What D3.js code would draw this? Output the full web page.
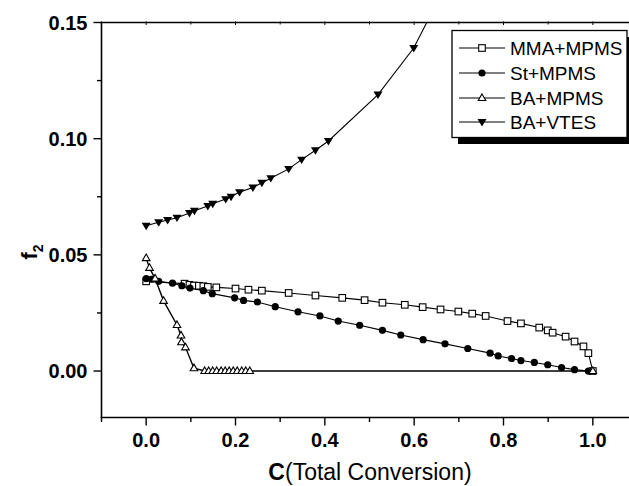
<!DOCTYPE html>
<html>
<head>
<meta charset="utf-8">
<script src="https://cdn.jsdelivr.net/npm/d3@7"></script>
<style>
  body { margin: 0; background: #fff; }
  svg { display: block; }
  text { font-family: "Liberation Sans", Arial, sans-serif; fill: #000; }
</style>
</head>
<body>
<svg id="chart" width="629" height="486"></svg>
<script>
// ---------- data ----------
const seriesNames = ["MMA+MPMS", "St+MPMS", "BA+MPMS", "BA+VTES"];

const mmaC = [0.0, 0.086, 0.097, 0.107, 0.118, 0.128, 0.138, 0.157, 0.200, 0.229, 0.259, 0.319, 0.379, 0.439, 0.489, 0.529, 0.579, 0.619, 0.659, 0.699, 0.730, 0.760, 0.809, 0.839, 0.880, 0.899, 0.910, 0.939, 0.959, 0.979, 0.990, 1.0];
const mmaF = [0.0386, 0.0376, 0.0371, 0.0368, 0.0367, 0.0365, 0.0362, 0.0360, 0.0355, 0.0350, 0.0346, 0.0336, 0.0325, 0.0315, 0.0305, 0.0294, 0.0285, 0.0275, 0.0265, 0.0256, 0.0247, 0.0237, 0.0215, 0.0205, 0.0187, 0.0175, 0.0165, 0.0148, 0.0127, 0.0106, 0.0077, 0.0];

const stC = [0.0, 0.012, 0.028, 0.059, 0.080, 0.098, 0.128, 0.148, 0.198, 0.218, 0.249, 0.289, 0.340, 0.389, 0.430, 0.478, 0.529, 0.570, 0.620, 0.669, 0.720, 0.770, 0.788, 0.818, 0.839, 0.869, 0.899, 0.930, 0.959, 0.990];
const stF = [0.0398, 0.0395, 0.0386, 0.0378, 0.0367, 0.0357, 0.0346, 0.0333, 0.0315, 0.0304, 0.0297, 0.0277, 0.0255, 0.0237, 0.0215, 0.0197, 0.0175, 0.0155, 0.0135, 0.0117, 0.0097, 0.0077, 0.0065, 0.0054, 0.0045, 0.0037, 0.0027, 0.0015, 0.0006, 0.0];

const baC = [0.0, 0.0075, 0.020, 0.039, 0.069, 0.078, 0.079, 0.088, 0.107, 0.131, 0.140, 0.149, 0.158, 0.168, 0.177, 0.186, 0.195, 0.204, 0.214, 0.223, 0.232, 1.0];
const baF = [0.0486, 0.0444, 0.0398, 0.0302, 0.0198, 0.0153, 0.0124, 0.0102, 0.0012, 0.0, 0.0, 0.0, 0.0, 0.0, 0.0, 0.0, 0.0, 0.0, 0.0, 0.0, 0.0, 0.0];

const vtC = [0.0, 0.028, 0.048, 0.069, 0.097, 0.108, 0.138, 0.149, 0.178, 0.190, 0.209, 0.239, 0.259, 0.279, 0.319, 0.348, 0.379, 0.408, 0.519, 0.599, 0.660];
const vtF = [0.0625, 0.0640, 0.0650, 0.0660, 0.0680, 0.0690, 0.0710, 0.0720, 0.0740, 0.0750, 0.0770, 0.0790, 0.0810, 0.0830, 0.0870, 0.0910, 0.0950, 0.0990, 0.1190, 0.1390, 0.1620];

const xTicks = [0.0, 0.2, 0.4, 0.6, 0.8, 1.0];
const xTickLabels = ["0.0", "0.2", "0.4", "0.6", "0.8", "1.0"];
const xMinorTicks = [-0.1, 0.1, 0.3, 0.5, 0.7, 0.9, 1.1];
const yTicks = [0.00, 0.05, 0.10, 0.15];
const yTickLabels = ["0.00", "0.05", "0.10", "0.15"];
const yMinorTicks = [0.025, 0.075, 0.125];

// ---------- layout ----------
const svg = d3.select("#chart");
const x = d3.scaleLinear().domain([-0.1, 1.1]).range([101.5, 637.5]);
const y = d3.scaleLinear().domain([-0.02, 0.15]).range([417.5, 22.5]);

svg.append("defs").append("clipPath").attr("id", "plotclip")
  .append("rect").attr("x", x(-0.1)).attr("y", y(0.15)).attr("width", 629 - x(-0.1)).attr("height", y(-0.02) - y(0.15));

const zip = (cs, fs) => cs.map((c, i) => ({c, f: fs[i]}));
const series = [
  {name: seriesNames[0], data: zip(mmaC, mmaF), sym: "square"},
  {name: seriesNames[1], data: zip(stC, stF), sym: "circle"},
  {name: seriesNames[2], data: zip(baC, baF), sym: "triUp"},
  {name: seriesNames[3], data: zip(vtC, vtF), sym: "triDown"}
];

function drawSymbol(g, type, cx, cy) {
  if (type === "square") {
    g.append("rect").attr("x", cx - 3.3).attr("y", cy - 3.3).attr("width", 6.6).attr("height", 6.6)
      .attr("fill", "#fff").attr("stroke", "#000").attr("stroke-width", 1.1);
  } else if (type === "circle") {
    g.append("circle").attr("cx", cx).attr("cy", cy).attr("r", 3.6).attr("fill", "#000");
  } else if (type === "triUp") {
    const h = 6.6, w = 7.6;
    g.append("path").attr("d", `M${cx},${cy - h * 0.62}L${cx + w / 2},${cy + h * 0.38}L${cx - w / 2},${cy + h * 0.38}Z`)
      .attr("fill", "#fff").attr("stroke", "#000").attr("stroke-width", 1.1);
  } else if (type === "triDown") {
    const h = 7.4, w = 9;
    g.append("path").attr("d", `M${cx},${cy + h * 0.6}L${cx + w / 2},${cy - h * 0.4}L${cx - w / 2},${cy - h * 0.4}Z`)
      .attr("fill", "#000");
  }
}

// ---------- axes ----------
const axisG = svg.append("g").attr("stroke", "#000").attr("fill", "none");
axisG.append("line").attr("x1", x(-0.1)).attr("x2", x(-0.1)).attr("y1", y(0.15)).attr("y2", y(-0.02)).attr("stroke-width", 1.6);
axisG.append("line").attr("x1", x(-0.1) - 0.8).attr("x2", 629).attr("y1", y(-0.02)).attr("y2", y(-0.02)).attr("stroke-width", 1.6);
axisG.append("line").attr("x1", x(-0.1) - 0.8).attr("x2", 629).attr("y1", y(0.15)).attr("y2", y(0.15)).attr("stroke-width", 1.6);

xTicks.forEach(t => {
  axisG.append("line").attr("x1", x(t)).attr("x2", x(t)).attr("y1", y(-0.02)).attr("y2", y(-0.02) + 8).attr("stroke-width", 1.4);
  axisG.append("line").attr("x1", x(t)).attr("x2", x(t)).attr("y1", y(0.15) - 1).attr("y2", y(0.15) + 2.5).attr("stroke-width", 1);
});
xMinorTicks.forEach(t => {
  axisG.append("line").attr("x1", x(t)).attr("x2", x(t)).attr("y1", y(-0.02)).attr("y2", y(-0.02) + 4.5).attr("stroke-width", 1.4);
  axisG.append("line").attr("x1", x(t)).attr("x2", x(t)).attr("y1", y(0.15) - 1).attr("y2", y(0.15) + 2).attr("stroke-width", 1);
});
yTicks.forEach(t => {
  axisG.append("line").attr("x1", x(-0.1) - 8).attr("x2", x(-0.1)).attr("y1", y(t)).attr("y2", y(t)).attr("stroke-width", 1.4);
});
yMinorTicks.forEach(t => {
  axisG.append("line").attr("x1", x(-0.1) - 4.5).attr("x2", x(-0.1)).attr("y1", y(t)).attr("y2", y(t)).attr("stroke-width", 1.4);
});

xTicks.forEach((t, i) => {
  svg.append("text").attr("x", x(t)).attr("y", 447).attr("text-anchor", "middle")
    .attr("font-size", 20).attr("font-weight", "bold").text(xTickLabels[i]);
});
yTicks.forEach((t, i) => {
  svg.append("text").attr("x", 87.5).attr("y", y(t) + 7).attr("text-anchor", "end")
    .attr("font-size", 20).attr("font-weight", "bold").text(yTickLabels[i]);
});

// axis titles
const xt = svg.append("text").attr("x", 370).attr("y", 480).attr("text-anchor", "middle").attr("font-size", 23);
xt.append("tspan").attr("font-weight", "bold").text("C");
xt.append("tspan").text("(Total Conversion)");

const yt = svg.append("text").attr("transform", "translate(37,252) rotate(-90)").attr("text-anchor", "middle")
  .attr("font-size", 22).attr("font-weight", "bold");
yt.append("tspan").text("f");
yt.append("tspan").attr("font-size", 14).attr("dy", 6).text("2");

// ---------- series ----------
const plot = svg.append("g").attr("clip-path", "url(#plotclip)");
const line = d3.line().x(d => x(d.c)).y(d => y(d.f));
series.forEach(s => {
  plot.append("path").datum(s.data).attr("d", line).attr("fill", "none")
    .attr("stroke", "#000").attr("stroke-width", s.sym === "triUp" ? 1.4 : 1.1);
});
series.forEach(s => {
  const g = plot.append("g");
  s.data.forEach(d => drawSymbol(g, s.sym, x(d.c), y(d.f)));
});

// ---------- legend ----------
const lg = svg.append("g");
lg.append("rect").attr("x", 458).attr("y", 37).attr("width", 180).attr("height", 107).attr("fill", "#000");
lg.append("rect").attr("x", 452).attr("y", 30.5).attr("width", 175).attr("height", 107)
  .attr("fill", "#fff").attr("stroke", "#000").attr("stroke-width", 1.3);
const rowsY = [48, 73, 98, 122];
series.forEach((s, i) => {
  const cy = rowsY[i];
  lg.append("line").attr("x1", 459).attr("x2", 505).attr("y1", cy).attr("y2", cy).attr("stroke", "#000").attr("stroke-width", 1.1);
  drawSymbol(lg, s.sym, 482, cy);
  lg.append("text").attr("x", 510).attr("y", cy + 7).attr("font-size", 19).text(s.name);
});
</script>
</body>
</html>
